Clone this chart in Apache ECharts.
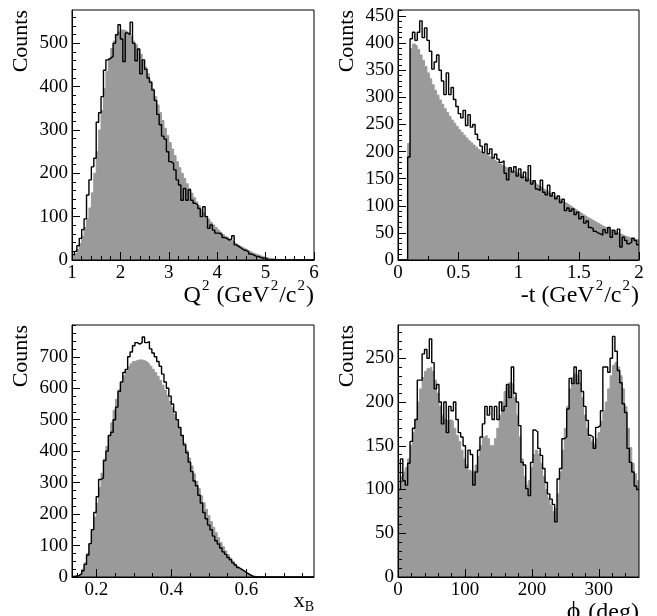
<!DOCTYPE html>
<html><head><meta charset="utf-8">
<script src="https://cdn.jsdelivr.net/npm/echarts@6/dist/echarts.min.js"></script>
<style>html,body{margin:0;padding:0;background:#fff}#c{width:657px;height:616px}</style>
</head><body><div id="c"></div>
<script>
// ---------- Q^2 histogram (bins of 0.05 from 1) ----------
const q2BinMin = 1, q2BinWidth = 0.05;
const q2Data = [12,20,33,50,70,95,150,185,215,235,
318,340,377,438,462,466,470,500,520,543,
510,458,524,520,549,500,460,487,430,462,
440,420,410,392,368,336,312,286,279,250,
227,223,208,185,173,138,165,138,162,138,
131,127,119,100,123,100,73,81,69,62,
62,58,52,50,46,48,56,35,31,27,
23,22,19,14,12,9,8,6,4,5,
1,0,0,0,0,0,0,0,0,0,
0,0,0,0,0,0,0,0,0,0];
const q2Sim = [8,14,24,38,55,75,95,120,155,200,
250,300,345,395,435,465,488,505,518,526,
531,530,527,523,517,505,497,487,475,460,
445,430,413,395,377,358,340,322,304,287,
271,256,241,227,213,200,188,176,165,154,
144,134,125,117,109,101,94,87,81,75,
69,64,59,54,50,46,42,38,34,31,
28,25,22,19,16,14,12,10,8,6,
5,4,3,2,1,1,0,0,0,0,
0,0,0,0,0,0,0,0,0,0];
const q2XTicks = [1,2,3,4,5,6];
const q2YTicks = [0,100,200,300,400,500];

// ---------- -t histogram (bins of 0.02 from 0) ----------
const tBinMin = 0, tBinWidth = 0.02;
const tData = [0,0,0,0,190,408,420,405,420,441,
410,428,405,385,352,365,378,350,330,305,
345,305,318,296,283,270,262,276,248,268,
245,250,232,222,210,198,214,196,205,188,
195,186,180,183,160,148,170,162,172,155,
168,152,162,146,174,140,146,131,128,147,
125,120,138,118,124,113,118,106,112,91,
96,90,94,84,88,76,80,68,72,60,
58,53,50,48,46,56,50,60,42,55,
48,57,24,42,36,30,33,40,36,28];
const tSim = [0,0,0,0,215,390,398,395,388,378,
368,357,345,334,323,313,304,295,287,279,
272,265,258,252,246,240,235,230,225,220,
216,212,208,204,200,197,194,191,188,185,
182,179,176,173,171,168,166,164,162,160,
158,155,153,150,147,145,142,139,136,133,
130,127,124,121,118,115,113,110,107,105,
102,99,96,93,90,87,84,81,78,76,
73,71,68,66,63,61,59,57,55,53,
51,49,47,45,43,42,40,39,38,37];
const tXTicks = [0,0.5,1,1.5,2];
const tYTicks = [0,50,100,150,200,250,300,350,400,450];

// ---------- x_B histogram ----------
const xbBinMin = 0.135, xbBinWidth = 0.00645;
const xbData = [2,3,5,10,20,40,70,106,150,205,
255,310,315,370,400,450,460,500,540,590,
620,650,660,700,715,735,745,740,745,763,
745,748,725,712,700,685,670,645,620,600,
575,550,525,500,475,450,420,395,365,335,
305,290,260,235,205,185,165,150,130,115,
105,92,80,72,62,55,45,38,30,25,
20,15,10,5,2,0,0,0,0,0,
0,0,0,0,0,0,0,0,0,0,
0,0,0,0,0,0,0,0,0,0];
const xbSim = [1,3,6,12,25,45,75,105,145,190,
235,285,330,375,415,450,490,530,565,595,
615,640,655,668,678,685,688,690,690,688,
684,678,670,660,650,638,625,610,594,577,
558,538,517,495,473,450,426,402,378,353,
328,304,281,258,236,215,195,176,158,141,
125,110,96,83,71,60,50,41,33,26,
20,15,11,7,4,2,1,0,0,0,
0,0,0,0,0,0,0,0,0,0,
0,0,0,0,0,0,0,0,0,0];
const xbXTicks = [0.2,0.4,0.6];
const xbYTicks = [0,100,200,300,400,500,600,700];

// ---------- phi histogram (bins of 3.6 deg) ----------
const phiBinMin = 0, phiBinWidth = 3.6;
const phiData = [100,135,110,105,130,155,170,180,225,225,
255,260,250,272,245,215,220,200,175,200,
165,195,190,200,180,165,160,150,125,145,
140,105,120,145,160,175,195,185,195,180,
195,180,200,190,195,220,205,240,210,200,
173,131,128,101,93,131,168,166,147,139,
124,108,95,89,83,63,112,124,158,160,
192,227,221,240,221,236,212,195,179,162,
160,147,171,173,190,240,240,234,250,275,
258,236,222,198,188,147,131,120,104,100];
const phiSim = [100,115,120,125,135,150,165,180,200,215,
228,235,238,240,235,225,210,195,185,180,
178,180,178,170,162,155,145,135,128,122,
120,122,128,138,150,160,162,158,150,150,
158,170,185,200,212,218,222,220,205,185,
160,135,115,105,110,125,140,145,140,130,
115,100,90,82,75,78,95,120,145,170,
195,215,228,232,230,222,205,185,170,160,
155,152,158,165,178,190,200,215,230,242,
245,240,230,215,195,170,148,130,118,110];
const phiXTicks = [0,100,200,300];
const phiYTicks = [0,50,100,150,200,250];

// ---------- layout / style ----------
const FONT = 'Liberation Serif';
const GRAY = '#9a9a9a';
const panels = [
  {grid:{left:72, top:10, width:242, height:250}, xr:[1,6], yr:[0,577], xt:q2XTicks, xm:0.2, yt:q2YTicks, ym:20,
   bmin:q2BinMin, bw:q2BinWidth, data:q2Data, sim:q2Sim,
   xname:'{m|Q}{s|2}{m| (GeV}{s|2}{m|/c}{s|2}{m|)}', xpad:19},
  {grid:{left:398, top:10, width:241, height:250}, xr:[0,2], yr:[0,461], xt:tXTicks, xm:0.25, yt:tYTicks, ym:10,
   bmin:tBinMin, bw:tBinWidth, data:tData, sim:tSim,
   xname:'{m|-t (GeV}{s|2}{m|/c}{s|2}{m|)}', xpad:19},
  {grid:{left:72, top:325, width:242, height:252}, xr:[0.135,0.78], yr:[0,801], xt:xbXTicks, xm:0.05, yt:xbYTicks, ym:25,
   bmin:xbBinMin, bw:xbBinWidth, data:xbData, sim:xbSim,
   xname:'{x|x}{b|B}', xpad:13},
  {grid:{left:398, top:325, width:241, height:252}, xr:[0,360], yr:[0,288], xt:phiXTicks, xm:20, yt:phiYTicks, ym:10,
   bmin:phiBinMin, bw:phiBinWidth, data:phiData, sim:phiSim,
   xname:'{p|\u03D5}{m| (deg)}', xpad:19}
];

function edges(min, w, vals){
  const out = vals.map((v,i)=>[min+i*w, v]);
  out.push([min+vals.length*w, vals[vals.length-1]]);
  return out;
}
function minorTicks(lo, hi, step, majors){
  const r = [];
  let k = Math.ceil(lo/step - 1e-9);
  while (k*step <= hi + 1e-9){
    const v = +(k*step).toFixed(6);
    if (!majors.some(m => Math.abs(m - v) < step*1e-3) && v > lo + 1e-9 && v < hi - 1e-9) r.push(v);
    k++;
  }
  return r;
}
const rich = {
  m:{fontFamily:FONT, fontSize:24, color:'#000', padding:[5,0,0,0]},
  p:{fontFamily:FONT, fontSize:26, color:'#000', padding:[3,2,0,0]},
  s:{fontFamily:FONT, fontSize:15, color:'#000', verticalAlign:'top', padding:[0,1,0,1]},
  x:{fontFamily:FONT, fontSize:22, color:'#000', padding:[0,0,2,0]},
  b:{fontFamily:FONT, fontSize:14, color:'#000', verticalAlign:'bottom'}
};
const grids=[], xAxes=[], yAxes=[], series=[];
panels.forEach((p, i) => {
  grids.push(Object.assign({show:true, borderColor:'#000', borderWidth:1, backgroundColor:'transparent', z:10,
    containLabel:false, outerBoundsMode:'none'}, p.grid));
  const lab = {show:true, margin:4, color:'#000', fontFamily:FONT, fontSize:19};
  xAxes.push({type:'value', gridIndex:i, min:p.xr[0], max:p.xr[1], position:'bottom', z:6,
    axisLine:{show:true, onZero:false, lineStyle:{color:'#000', width:1}},
    axisTick:{show:true, inside:true, length:8, customValues:p.xt, lineStyle:{color:'#000', width:1}},
    axisLabel:Object.assign({customValues:p.xt, formatter:v=>String(+v.toFixed(4))}, lab),
    splitLine:{show:false},
    name:p.xname, nameLocation:'end', nameGap:0, nameMoveOverlap:false,
    nameTextStyle:{align:'right', verticalAlign:'top', padding:[p.xpad,0,0,0], fontFamily:FONT, fontSize:24, color:'#000', rich:rich}
  });
  xAxes.push({type:'value', gridIndex:i, min:p.xr[0], max:p.xr[1], position:'bottom', z:6,
    axisLine:{show:false}, axisLabel:{show:false}, splitLine:{show:false},
    axisTick:{show:true, inside:true, length:4, customValues:minorTicks(p.xr[0], p.xr[1], p.xm, p.xt), lineStyle:{color:'#000', width:1}}
  });
  yAxes.push({type:'value', gridIndex:i, min:p.yr[0], max:p.yr[1], position:'left', z:6,
    axisLine:{show:true, onZero:false, lineStyle:{color:'#000', width:1}},
    axisTick:{show:true, inside:true, length:8, customValues:p.yt, lineStyle:{color:'#000', width:1}},
    axisLabel:Object.assign({customValues:p.yt}, lab),
    splitLine:{show:false},
    name:'Counts', nameLocation:'end', nameGap:0, nameRotate:90, nameMoveOverlap:false,
    nameTextStyle:{align:'right', verticalAlign:'bottom', padding:[0,0,40,0], fontFamily:FONT, fontSize:22, color:'#000'}
  });
  yAxes.push({type:'value', gridIndex:i, min:p.yr[0], max:p.yr[1], position:'left', z:6,
    axisLine:{show:false}, axisLabel:{show:false}, splitLine:{show:false},
    axisTick:{show:true, inside:true, length:4, customValues:minorTicks(p.yr[0], p.yr[1], p.ym, p.yt), lineStyle:{color:'#000', width:1}}
  });
  series.push({type:'line', xAxisIndex:2*i, yAxisIndex:2*i, data:edges(p.bmin, p.bw, p.sim), step:'end',
    symbol:'none', silent:true, z:2, lineStyle:{width:1, color:GRAY}, areaStyle:{color:GRAY, opacity:1}});
  series.push({type:'line', xAxisIndex:2*i, yAxisIndex:2*i, data:edges(p.bmin, p.bw, p.data), step:'end',
    symbol:'none', silent:true, z:3, lineStyle:{width:1.4, color:'#000'}});
});
const chart = echarts.init(document.getElementById('c'), null, {renderer:'canvas', width:657, height:616});
chart.setOption({animation:false, backgroundColor:'#fff', grid:grids, xAxis:xAxes, yAxis:yAxes, series:series});
</script></body></html>
